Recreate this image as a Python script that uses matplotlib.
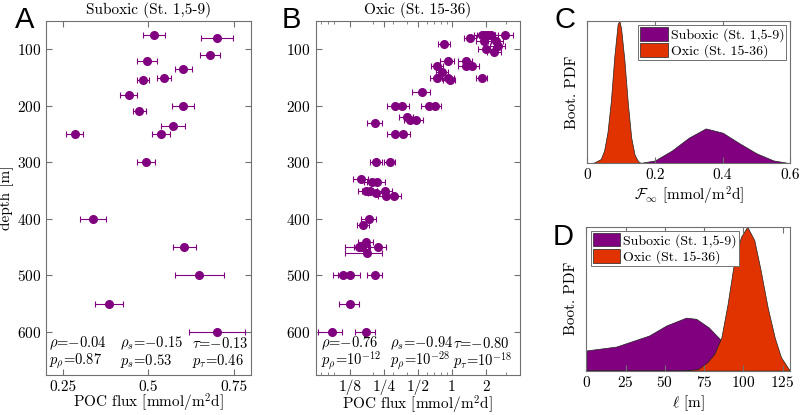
import matplotlib
matplotlib.use('Agg')
import matplotlib.pyplot as plt
from matplotlib.ticker import LogLocator, NullFormatter, NullLocator

plt.rcParams['font.family'] = ['cmr10', 'DejaVu Serif']
plt.rcParams['mathtext.fontset'] = 'cm'
plt.rcParams['axes.unicode_minus'] = False
plt.rcParams['axes.formatter.use_mathtext'] = True
plt.rcParams['font.size'] = 11

PURPLE = '#800080'
RED = '#e03300'
SPINE = '#707070'

# --- panel A: suboxic stations ---
depth_a = [75, 80, 110, 120, 135, 150, 155, 180, 200, 210, 235, 250, 250, 300,
           400, 450, 500, 550, 600]
flux_a = [0.516, 0.701, 0.681, 0.496, 0.602, 0.545, 0.484, 0.442, 0.602, 0.473,
          0.572, 0.284, 0.537, 0.492, 0.337, 0.605, 0.649, 0.385, 0.701]
err_a = [0.032, 0.046, 0.030, 0.030, 0.025, 0.021, 0.017, 0.024, 0.033, 0.019,
         0.034, 0.025, 0.025, 0.026, 0.038, 0.034, 0.072, 0.042, 0.081]

# --- panel B: oxic stations ---
depth_b = [75, 75, 75, 75, 75, 80, 85, 85, 90, 95, 100, 105, 120, 120, 130, 130,
           130, 140, 150, 150, 150, 155, 175, 200, 200, 200, 200, 220, 225, 225,
           230, 250, 250, 300, 300, 330, 335, 335, 350, 350, 350, 355, 360, 360,
           400, 410, 440, 450, 450, 450, 460, 500, 500, 500, 550, 600, 600]
flux_b = [1.83, 1.96, 2.09, 2.22, 2.93, 1.46, 1.93, 2.47, 0.856, 2.56, 2.01, 2.38,
          0.916, 1.32, 0.739, 1.33, 1.50, 0.822, 0.733, 0.929, 1.84, 0.953, 0.542,
          0.315, 0.365, 0.629, 0.71, 0.398, 0.426, 0.484, 0.21, 0.311, 0.373,
          0.214, 0.283, 0.157, 0.198, 0.218, 0.174, 0.19, 0.258, 0.213, 0.264,
          0.308, 0.184, 0.165, 0.174, 0.152, 0.162, 0.223, 0.178, 0.108, 0.125,
          0.21, 0.126, 0.087, 0.174]
relerr_b = [0.15, 0.15, 0.15, 0.15, 0.18, 0.12, 0.15, 0.15, 0.12, 0.15, 0.15, 0.15,
            0.15, 0.15, 0.12, 0.15, 0.15, 0.12, 0.12, 0.12, 0.12, 0.12, 0.18,
            0.15, 0.15, 0.15, 0.12, 0.15, 0.12, 0.15, 0.15, 0.15, 0.15,
            0.12, 0.12, 0.15, 0.15, 0.18, 0.15, 0.15, 0.15, 0.15, 0.15,
            0.15, 0.15, 0.12, 0.15, 0.25, 0.15, 0.18, 0.36, 0.18, 0.22,
            0.15, 0.2, 0.24, 0.2]

# --- panel C: bootstrap PDF of F_inf ---
finf_sub = [0.0, 0.15, 0.2, 0.25, 0.3, 0.35, 0.4, 0.45, 0.5, 0.55, 0.6]
pdf_finf_sub = [0.0, 0.0, 0.02, 0.09, 0.18, 0.245, 0.215, 0.14, 0.07, 0.02, 0.0]
finf_ox = [0.0, 0.02, 0.04, 0.05, 0.06, 0.07, 0.08, 0.09, 0.095, 0.10, 0.11,
           0.12, 0.13, 0.14, 0.15, 0.16, 0.6]
pdf_finf_ox = [0.0, 0.005, 0.03, 0.09, 0.22, 0.44, 0.75, 0.98, 1.0, 0.95, 0.72,
               0.42, 0.18, 0.06, 0.015, 0.0, 0.0]

# --- panel D: bootstrap PDF of length scale ---
ell_sub = [0, 19, 40, 51, 63.5, 70, 78, 85, 90, 100, 110, 120, 130]
pdf_ell_sub = [0.14, 0.167, 0.244, 0.314, 0.368, 0.36, 0.30, 0.22, 0.15, 0.06,
               0.01, 0.0, 0.0]
ell_ox = [0, 60, 65, 71, 77, 81.5, 86, 90, 94, 98.5, 102.5, 107, 111, 115.5,
          120, 124, 129, 130]
pdf_ell_ox = [0.0, 0.0, 0.005, 0.01, 0.058, 0.116, 0.23, 0.465, 0.745, 0.93,
              1.0, 0.907, 0.70, 0.44, 0.23, 0.093, 0.01, 0.0]

labels = ['Suboxic (St. 1,5-9)', 'Oxic (St. 15-36)']

# correlation statistics (columns: Pearson, Spearman, Kendall)
stats_a = [(r'$\rho$=−0.04', r'$p_\rho$=0.87'),
           (r'$\rho_s$=−0.15', r'$p_s$=0.53'),
           (r'$\tau$=−0.13', r'$p_\tau$=0.46')]
stats_b = [(r'$\rho$=−0.76', r'$p_\rho$=10$^{-12}$'),
           (r'$\rho_s$=−0.94', r'$p_\rho$=10$^{-28}$'),
           (r'$\tau$=−0.80', r'$p_\tau$=10$^{-18}$')]


def style_box(ax):
    for s in ax.spines.values():
        s.set_color(SPINE)
        s.set_linewidth(0.8)
    ax.tick_params(which='both', direction='in', top=True, right=True,
                   color=SPINE, labelsize=11)
    ax.tick_params(which='major', length=4)
    ax.tick_params(which='minor', length=2)


def add_legend(ax, loc):
    leg = ax.legend(loc=loc, fontsize=10, handlelength=2.0, handleheight=1.1,
                    borderpad=0.15, labelspacing=0.1, handletextpad=0.2,
                    borderaxespad=0.3, fancybox=False, framealpha=1)
    leg.get_frame().set_edgecolor(SPINE)
    leg.get_frame().set_linewidth(0.7)


def add_stats(ax, xs, stats):
    for x, (l1, l2) in zip(xs, stats):
        ax.text(x, 0.089, l1, transform=ax.transAxes, fontsize=10.5, va='center')
        ax.text(x, 0.040, l2, transform=ax.transAxes, fontsize=10.5, va='center')


fig = plt.figure(figsize=(8, 4.15), dpi=100)

# A
axA = fig.add_axes([0.0575, 0.0964, 0.256, 0.853])
axA.errorbar(flux_a, depth_a, xerr=err_a, fmt='o', color=PURPLE, ms=5.5,
             elinewidth=0.8, capsize=2.5, capthick=0.8)
axA.set_xlim(0.2, 0.8)
axA.set_ylim(676, 50)
axA.set_xticks([0.25, 0.5, 0.75])
axA.set_xticklabels(['0.25', '0.5', '0.75'])
axA.set_yticks([100, 200, 300, 400, 500, 600])
axA.set_title('Suboxic (St. 1,5-9)', fontsize=11, pad=5)
axA.set_ylabel('depth [m]', fontsize=11, labelpad=2)
axA.set_xlabel('POC flux [mmol/m$^2$d]', fontsize=11, labelpad=-1)
style_box(axA)
add_stats(axA, [0.015, 0.361, 0.711], stats_a)

# B
axB = fig.add_axes([0.3946, 0.0964, 0.2554, 0.853])
axB.set_xscale('log', base=2)
xerr_b = [[f * r for f, r in zip(flux_b, relerr_b)],
          [f * r for f, r in zip(flux_b, relerr_b)]]
axB.errorbar(flux_b, depth_b, xerr=xerr_b, fmt='o', color=PURPLE, ms=5.5,
             elinewidth=0.8, capsize=2.5, capthick=0.8)
axB.set_xlim(1 / 16, 4)
axB.set_ylim(676, 50)
axB.set_xticks([1 / 8, 1 / 4, 1 / 2, 1, 2])
axB.set_xticklabels(['1/8', '1/4', '1/2', '1', '2'])
axB.xaxis.set_minor_locator(LogLocator(base=10, subs=range(2, 10)))
axB.xaxis.set_minor_formatter(NullFormatter())
axB.set_yticks([100, 200, 300, 400, 500, 600])
axB.set_title('Oxic (St. 15-36)', fontsize=11, pad=5)
axB.set_xlabel('POC flux [mmol/m$^2$d]', fontsize=11, labelpad=-1)
style_box(axB)
add_stats(axB, [0.025, 0.364, 0.672], stats_b)

# C
axC = fig.add_axes([0.734, 0.6065, 0.254, 0.343])
axC.fill_between(finf_sub, pdf_finf_sub, color=PURPLE, edgecolor='#222222',
                 linewidth=0.5, label=labels[0])
axC.fill_between(finf_ox, pdf_finf_ox, color=RED, edgecolor='#222222',
                 linewidth=0.5, label=labels[1])
axC.set_xlim(0, 0.6)
axC.set_ylim(0, 1.0)
axC.set_xticks([0, 0.2, 0.4, 0.6])
axC.set_xticklabels(['0', '0.2', '0.4', '0.6'])
axC.yaxis.set_major_locator(NullLocator())
axC.set_ylabel('Boot. PDF', fontsize=11, labelpad=6)
axC.set_xlabel(r'$\mathcal{F}_\infty$ [mmol/m$^2$d]', fontsize=11, labelpad=2)
style_box(axC)
add_legend(axC, 'upper right')

# D
axD = fig.add_axes([0.733, 0.107, 0.255, 0.3465])
axD.fill_between(ell_sub, pdf_ell_sub, color=PURPLE, edgecolor='#222222',
                 linewidth=0.5, label=labels[0])
axD.fill_between(ell_ox, pdf_ell_ox, color=RED, edgecolor='#222222',
                 linewidth=0.5, label=labels[1])
axD.set_xlim(0, 130)
axD.set_ylim(0, 1.0)
axD.set_xticks([0, 25, 50, 75, 100, 125])
axD.yaxis.set_major_locator(NullLocator())
axD.set_ylabel('Boot. PDF', fontsize=11, labelpad=6)
axD.set_xlabel(r'$\ell$ [m]', fontsize=11, labelpad=2)
style_box(axD)
add_legend(axD, 'upper left')

# panel letters
for x, y, s in [(15, 28, 'A'), (282, 28, 'B'), (555, 28, 'C'), (553, 245, 'D')]:
    fig.text(x / 800, 1 - y / 415, s, fontsize=21, family='Liberation Sans',
             va='baseline', ha='left')

fig.savefig('out.png', dpi=100)
